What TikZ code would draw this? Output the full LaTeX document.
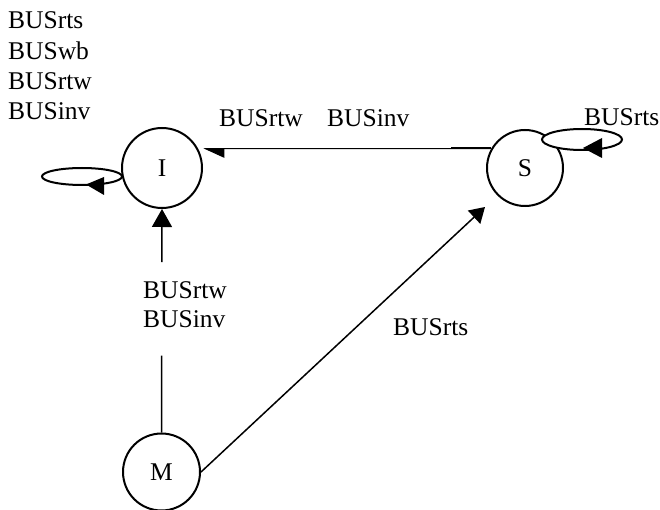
\documentclass[tikz,border=0pt]{standalone}
\usepackage{fontspec}
\setmainfont{Liberation Serif}
\usetikzlibrary{arrows.meta}
\begin{document}
\begin{tikzpicture}[x=1pt,y=-1pt,
  every node/.style={font=\fontsize{25.5}{30}\selectfont},
  state/.style={draw,circle,line width=2pt,inner sep=0pt},
  lbl/.style={anchor=base west,inner sep=0pt},
  conn/.style={line width=1.5pt},
  loopline/.style={line width=2pt,fill=white}]
\useasboundingbox (0,0) rectangle (660,510);
% states
\node[state,minimum size=80pt] (I) at (162,168) {I};
\node[state,minimum size=76pt] (S) at (525,168) {S};
\node[state,minimum size=77pt] (M) at (161.5,472) {M};
% top-left labels
\node[lbl] (t1) at (8,29) {BUSrts};
\node[lbl] (t2) at (8,59.5) {BUSwb};
\node[lbl] (t3) at (8,90) {BUSrtw};
\node[lbl] (t4) at (8,120) {BUSinv};
% I self loop
\coordinate (Il) at ([shift={(-39,8.5)}]I.west);
\draw[loopline] (Il) ellipse [x radius=40, y radius=8.5];
\fill ([shift={(4,8)}]Il) -- ([shift={(22,0.5)}]Il) -- ([shift={(22,18.5)}]Il) -- cycle;
% S self loop
\coordinate (Sl) at ([shift={(57,-28.5)}]S.center);
\draw[loopline] (Sl) ellipse [x radius=40, y radius=10.5];
\fill ([shift={(1,8.5)}]Sl) -- ([shift={(20,-1.5)}]Sl) -- ([shift={(20,18.5)}]Sl) -- cycle;
\node[lbl] (ls) at (584,126) {BUSrts};
% S -> I
\coordinate (Sa) at (S.150);
\coordinate (Ia) at ([xshift=5pt]I.28);
\draw[line width=1pt,-{Triangle[left,length=20pt,width=18pt]}] (Sa) -- (Ia);
\draw[line width=2pt] (Sa) -- ([xshift=-40pt]Sa);
\node[lbl] (lsi1) at (219,127) {BUSrtw};
\node[lbl] (lsi2) at (327,127) {BUSinv};
% M -> I
\path (M.north) -- (I.south) coordinate[pos=0.344] (g1) coordinate[pos=0.762] (g2);
\draw[conn] (M.north) -- (g1);
\draw[conn,-{Triangle[length=18pt,width=20pt]}] (g2) -- (I.south);
\node[lbl] (lmi1) at (143,298) {BUSrtw};
\node[lbl] (lmi2) at (143,327) {BUSinv};
% M -> S
\coordinate (St) at ([shift={(-40,39)}]S.center);
\draw[conn,-{Triangle[length=15pt,width=18pt]}] (M.east) -- (St);
\node[lbl] (lms) at (393,335) {BUSrts};
\end{tikzpicture}
\end{document}
